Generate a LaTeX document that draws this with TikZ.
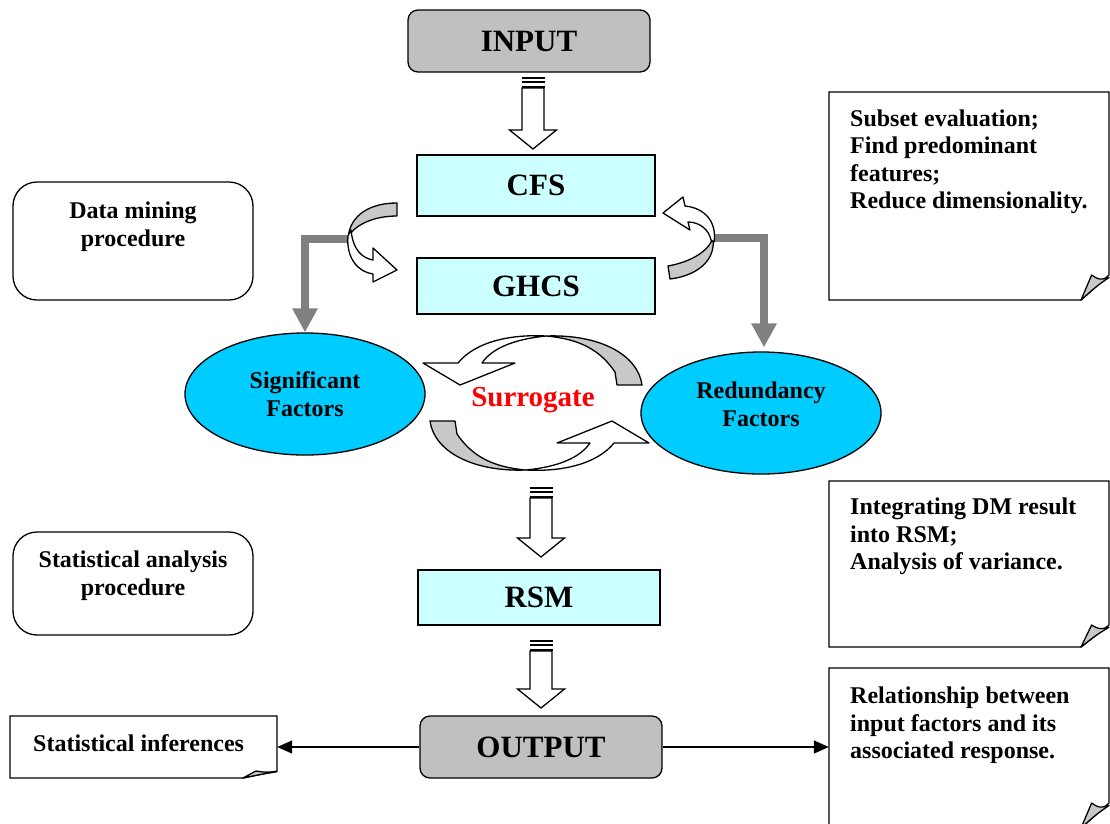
\documentclass[tikz,border=0pt]{standalone}
\usepackage{fontspec}
\setmainfont{Liberation Serif}
\usetikzlibrary{arrows.meta,shapes.geometric,calc}
\definecolor{boxgray}{HTML}{C0C0C0}
\definecolor{lcyan}{HTML}{CCFFFF}
\definecolor{ecyan}{HTML}{00CCFF}
\definecolor{cgray}{HTML}{808080}
\definecolor{fgray}{HTML}{C8C8C8}
% name x1 y1 x2 y2 foldwidth foldheight
\newcommand\foldnote[7]{%
  \filldraw[fill=white, line width=1.3] (#2,#3) -- (#4,#3) -- (#4,#5-#7) -- (#4-#6,#5) -- (#2,#5) -- cycle;
  \filldraw[fill=fgray, line width=1.3, line join=round] (#4-#6,#5) -- (#4-0.62*#6,#5-#7)
     .. controls (#4-0.35*#6,#5-0.8*#7) .. (#4,#5-0.9*#7)
     .. controls (#4-0.45*#6,#5-0.55*#7) .. (#4-#6,#5) -- cycle;
  \node[inner sep=0, minimum width={#4-#2}, minimum height={#5-#3}] (#1) at ({(#2+#4)/2},{(#3+#5)/2}) {};
}
% x top tip
\newcommand\hollowarr[3]{%
  \foreach \k in {1.5,6,10.5} {\draw[line width=2] (#1-11.5,#2+\k) -- (#1+11.5,#2+\k);}
  \filldraw[fill=white, line width=1.3] (#1-11,#2+12) -- (#1-11,#3-19) -- (#1-23.5,#3-19) -- (#1,#3)
     -- (#1+23.5,#3-19) -- (#1+11,#3-19) -- (#1+11,#2+12) -- cycle;
}
\begin{document}
\begin{tikzpicture}[x=1pt,y=-1pt,
  lw/.style={line width=1.3},
  graybox/.style={draw, lw, rounded corners=10, fill=boxgray, minimum width=242, minimum height=62, font=\fontsize{31}{35}\selectfont\bfseries, inner sep=0},
  cyanbox/.style={draw, lw, fill=lcyan, minimum width=238, font=\fontsize{31}{35}\selectfont\bfseries, inner sep=0},
  procbox/.style={draw, lw, rounded corners=24, minimum width=240, inner sep=0},
  ptext/.style={font=\fontsize{24}{28}\selectfont\bfseries, align=center, inner sep=0},
  ntext/.style={font=\fontsize{24}{27.5}\selectfont\bfseries, align=left, inner sep=0, anchor=north west},
  factor/.style={draw, lw, ellipse, fill=ecyan, minimum width=240, minimum height=122, inner sep=0},
  thickgray/.style={draw=cgray, line width=8, -{Triangle[length=24pt,width=24pt]}},
  outarrow/.style={draw, line width=1.5, -{Triangle[length=15pt,width=13pt]}},
  ribbon/.style={draw, lw, fill=white, line join=round},
  ribbonback/.style={draw, lw, fill=fgray, line join=round},
]
\useasboundingbox (0,0) rectangle (1110,823);
\fill[white] (0,0) rectangle (1110,823);

% main boxes
\node[graybox] (input) at (529,41) {INPUT};
\node[cyanbox, minimum height=61] (cfs) at (536,185.5) {CFS};
\node[cyanbox, minimum height=56] (ghcs) at (536,286) {GHCS};
\node[cyanbox, minimum width=242, minimum height=55] (rsm) at (539,597.5) {RSM};
\node[graybox] (output) at (541,747) {OUTPUT};

% procedure boxes
\node[procbox, minimum height=118, label={[ptext,yshift=14pt]center:Data mining\\procedure}] (dm) at (133,241) {};
\node[procbox, minimum height=103, label={[ptext,yshift=7.5pt]center:Statistical analysis\\procedure}] (sa) at (133,583.5) {};

% notes
\foldnote{n1}{829}{92}{1109}{300}{28}{25}
\node[ntext] at (850,109.5) {Subset evaluation;\\Find predominant\\features;\\Reduce dimensionality.};
\foldnote{n2}{829}{481}{1109}{647}{28}{22}
\node[ntext] at (850,498) {Integrating DM result\\into RSM;\\Analysis of variance.};
\foldnote{n3}{829}{668}{1109}{828}{28}{25}
\node[ntext] at (850,687) {Relationship between\\input factors and its\\associated response.};
\foldnote{n4}{10}{716}{277}{778}{34}{7}
\node[ptext, anchor=west] (si) at (33,743) {Statistical inferences};

% factor ellipses
\node[factor, font=\fontsize{24}{28}\selectfont\bfseries, align=center] (sig) at (305,394) {Significant\\Factors};
\node[factor, label={[ptext,yshift=9pt]center:Redundancy\\Factors}] (red) at (761,413) {};

% thick gray connectors
\coordinate (lstart) at (347,239);
\coordinate (rstart) at (713,238);
\draw[thickgray] (lstart) -| (sig.north);
\draw[thickgray] (rstart) -| ($(red.north)+(3,-4)$);

% curved arrow left (CFS -> GHCS)
\filldraw[ribbonback] (397,203) .. controls (370,203) and (350,215) .. (348,238)
   .. controls (353,226) and (372,216) .. (397,216) -- cycle;
\filldraw[ribbon] (348,236) .. controls (346,258) and (358,272) .. (373,274) -- (373,282) -- (397,270)
   -- (373,248) -- (373,260) .. controls (362,258) and (353,250) .. (351,230) -- cycle;

% curved arrow right (GHCS -> CFS)
\filldraw[ribbonback] (713,238) .. controls (716,262) and (695,276) .. (670,279) -- (668,266)
   .. controls (690,262) and (708,252) .. (713,238) -- cycle;
\filldraw[ribbon] (714,242) .. controls (717,222) and (705,208) .. (685,206) -- (683,197) -- (663,213)
   -- (690,230) -- (688,222) .. controls (700,222) and (709,230) .. (711,240) -- cycle;

% surrogate cycle arrows
\filldraw[ribbon] (458,363) .. controls (475,342) and (510,334) .. (546,336)
   .. controls (515,339) and (492,348) .. (482,363) -- (515,363) -- (460,385) -- (423,363) -- cycle;
\filldraw[ribbonback] (546,336) .. controls (600,334) and (638,355) .. (642,385) -- (617,385) -- (615,372)
   .. controls (600,350) and (580,339) .. (546,336) -- cycle;
\begin{scope}[rotate around={180:(536,403)}]
\filldraw[ribbon] (458,363) .. controls (475,342) and (510,334) .. (546,336)
   .. controls (515,339) and (492,348) .. (482,363) -- (515,363) -- (460,385) -- (423,363) -- cycle;
\filldraw[ribbonback] (546,336) .. controls (600,334) and (638,355) .. (642,385) -- (617,385) -- (615,372)
   .. controls (600,350) and (580,339) .. (546,336) -- cycle;
\end{scope}
\node[text=red, font=\fontsize{29}{33}\selectfont\bfseries, inner sep=0] (sur) at (533,400) {Surrogate};

% hollow arrows
\hollowarr{533}{76}{149}
\hollowarr{541}{486}{557}
\hollowarr{541}{639}{708}

% output arrows
\draw[outarrow] (output.west) -- (output.west -| n4.east);
\draw[outarrow] (output.east) -- (output.east -| n3.west);
\end{tikzpicture}
\end{document}
